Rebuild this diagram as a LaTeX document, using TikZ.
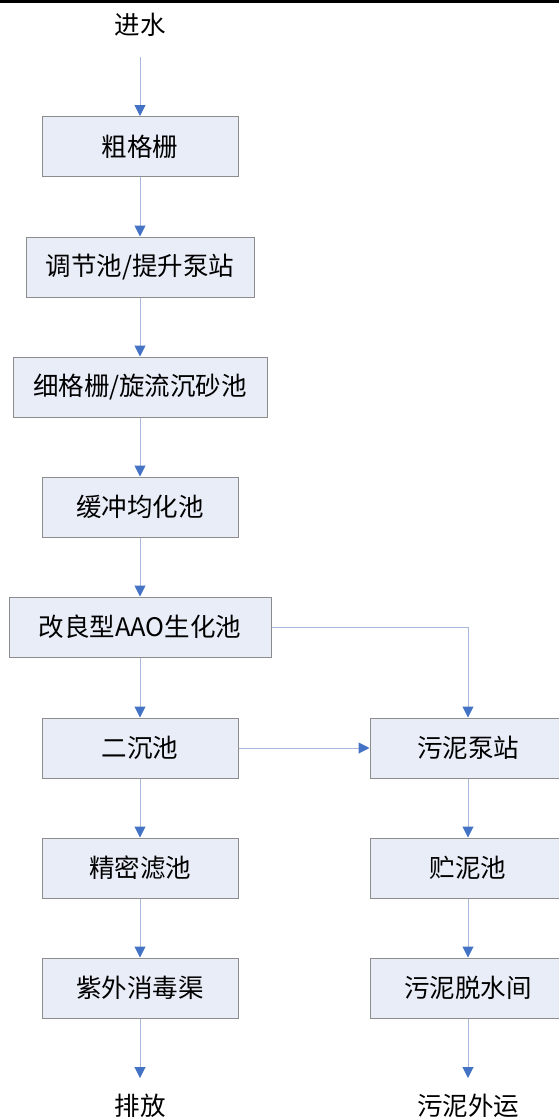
\documentclass[tikz,border=0pt]{standalone}
\usepackage{fontspec}
\newfontfamily\cjk{Noto Sans CJK SC}
\usetikzlibrary{arrows.meta}
\definecolor{boxfill}{HTML}{E8EDF7}
\definecolor{boxdraw}{HTML}{8C8C8C}
\definecolor{lineblue}{HTML}{A7BADC}
\definecolor{tipblue}{HTML}{4472C4}
\tikzset{
  procbox/.style={draw=boxdraw, fill=boxfill, line width=1pt, minimum height=60pt, inner sep=0pt,
    font=\cjk\fontsize{25.5}{29}\selectfont},
  lbl/.style={font=\cjk\fontsize{25.5}{29}\selectfont, inner sep=0pt},
  flow/.style={draw=lineblue, line width=1pt, -{Triangle[length=11pt,width=11pt,color=tipblue]}},
}
\begin{document}
\begin{tikzpicture}[x=1pt,y=-1pt]
\useasboundingbox (0,0) rectangle (559,1119);
\clip (0,0) rectangle (559,1119);
\fill[black] (0,0) rectangle (559,3);
\node[lbl] (in) at (140,25) {进水};
\coordinate (inS) at (140,57);
\node[procbox, minimum width=196pt] (b1) at (140,146.5) {粗格栅};
\node[procbox, minimum width=228pt] (b2) at (140,267) {调节池/提升泵站};
\node[procbox, minimum width=254pt] (b3) at (140,387) {细格栅/旋流沉砂池};
\node[procbox, minimum width=196pt] (b4) at (140,507) {缓冲均化池};
\node[procbox, minimum width=262pt] (b5) at (140,627) {改良型AAO生化池};
\node[procbox, minimum width=196pt] (b6) at (140,748) {二沉池};
\node[procbox, minimum width=196pt] (b7) at (140,868) {精密滤池};
\node[procbox, minimum width=196pt] (b8) at (140,988) {紫外消毒渠};
\node[procbox, minimum width=196pt] (r1) at (468,748) {污泥泵站};
\node[procbox, minimum width=196pt] (r2) at (468,868) {贮泥池};
\node[procbox, minimum width=196pt] (r3) at (468,988) {污泥脱水间};
\coordinate (outL) at (140,1078);
\coordinate (outR) at (468,1078);
\node[lbl] (dis) at (140,1106) {排放};
\node[lbl] (sl) at (468,1106) {污泥外运};
\draw[flow] (inS) -- (b1.north);
\draw[flow] (b1) -- (b2);
\draw[flow] (b2) -- (b3);
\draw[flow] (b3) -- (b4);
\draw[flow] (b4) -- (b5);
\draw[flow] (b5) -- (b6);
\draw[flow] (b6) -- (b7);
\draw[flow] (b7) -- (b8);
\draw[flow] (b8.south) -- (outL);
\draw[flow] (b5.east) -| (r1.north);
\draw[flow] (b6) -- (r1);
\draw[flow] (r1) -- (r2);
\draw[flow] (r2) -- (r3);
\draw[flow] (r3.south) -- (outR);
\end{tikzpicture}
\end{document}
